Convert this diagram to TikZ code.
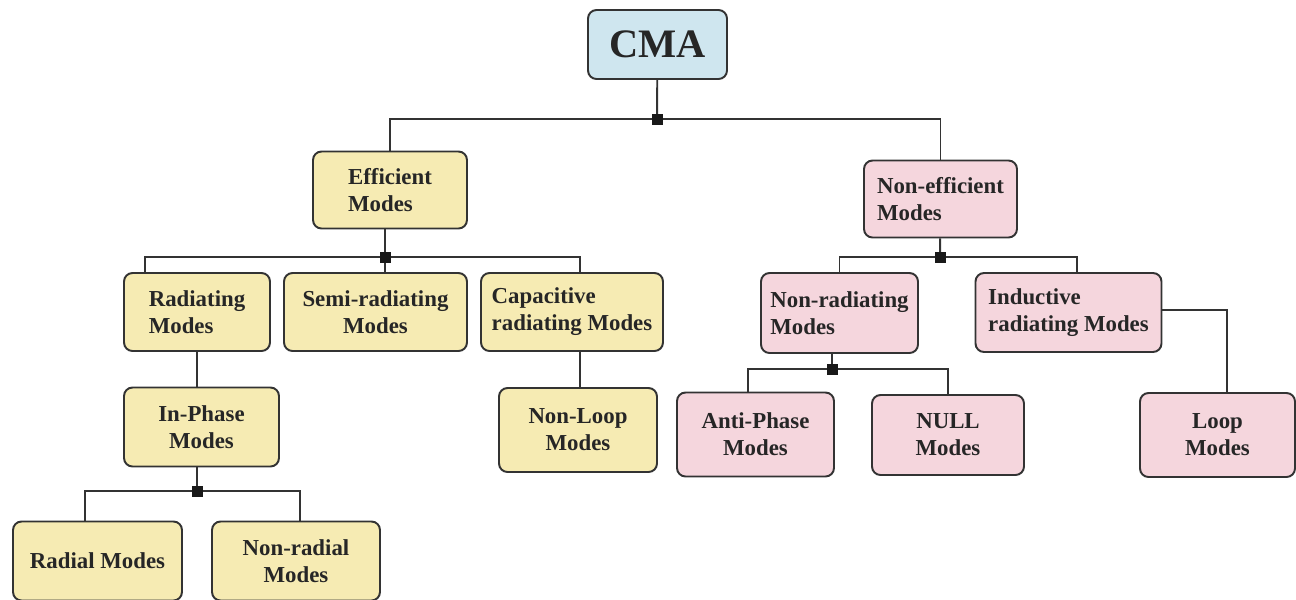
\documentclass[tikz,border=0pt]{standalone}
\usepackage{fontspec}
\setmainfont{Liberation Serif}
\usetikzlibrary{positioning}
\definecolor{effyellow}{HTML}{F6EBB3}
\definecolor{neffpink}{HTML}{F5D6DD}
\definecolor{cmablue}{HTML}{CFE6EF}
\definecolor{edgegray}{HTML}{333333}

\begin{document}
\begin{tikzpicture}[x=0.02cm, y=-0.02cm,
  box/.style={draw=edgegray, line width=1.1pt, rounded corners=0.17cm, align=left,
    font=\bfseries\fontsize{13}{15.4}\selectfont, text=black!85},
  eff/.style={box, fill=effyellow},
  neff/.style={box, fill=neffpink},
  junc/.style={fill=black!90, minimum size=0.22cm, inner sep=0pt},
  link/.style={draw=edgegray, line width=1.1pt}]
  \useasboundingbox (0,0) rectangle (1296,599);

  \node[box, fill=cmablue, minimum width=2.78cm, minimum height=1.38cm, font=\bfseries\fontsize{23}{26}\selectfont] (cma) at (657.5,44.5) {CMA};

  \node[eff, minimum width=3.08cm, minimum height=1.54cm] (eff) at (390,190) {Efficient\\Modes};
  \node[neff, minimum width=3.06cm, minimum height=1.54cm] (neff) at (940.5,199) {Non-efficient\\Modes};

  \node[eff, minimum width=2.92cm, minimum height=1.56cm] (rad) at (197,312) {Radiating\\Modes};
  \node[eff, align=center, minimum width=3.66cm, minimum height=1.56cm] (semi) at (375.5,312) {Semi-radiating\\Modes};
  \node[eff, minimum width=3.64cm, minimum height=1.56cm] (cap) at (572,312) {Capacitive\\radiating Modes};
  \node[eff, align=center, minimum width=3.1cm, minimum height=1.58cm] (inph) at (201.5,427) {In-Phase\\Modes};
  \node[eff, minimum width=3.38cm, minimum height=1.58cm] (radl) at (97.5,561) {Radial Modes};
  \node[eff, align=center, minimum width=3.36cm, minimum height=1.58cm] (nradl) at (296,561) {Non-radial\\Modes};
  \node[eff, align=center, minimum width=3.16cm, minimum height=1.68cm] (nloop) at (578,430) {Non-Loop\\Modes};

  \node[neff, minimum width=3.14cm, minimum height=1.6cm] (nrad) at (839.5,313) {Non-radiating\\Modes};
  \node[neff, minimum width=3.72cm, minimum height=1.58cm] (ind) at (1068.5,312.5) {Inductive\\radiating Modes};
  \node[neff, align=center, minimum width=3.14cm, minimum height=1.68cm] (anti) at (755.5,434.5) {Anti-Phase\\Modes};
  \node[neff, align=center, minimum width=3.04cm, minimum height=1.6cm] (null) at (948,435) {NULL\\Modes};
  \node[neff, align=center, minimum width=3.1cm, minimum height=1.68cm] (loop) at (1217.5,435) {Loop\\Modes};

  % branch points
  \coordinate (j0) at (657,119);
  \coordinate (j1) at (385,257);
  \coordinate (j2) at (197,491);
  \coordinate (j3) at (940,257);
  \coordinate (j4) at (832,369);

  \path[link] (cma) -- (j0);
  \path[link] (j0) -| (eff);
  \path[link] (j0) -| (neff);

  \path[link] (eff.south -| j1) -- (j1);
  \path[link] (j1) -| ([xshift=-1.04cm]rad.north);
  \path[link] (j1) -- (j1 |- semi.north);
  \path[link] (j1) -| ([xshift=0.16cm]cap.north);
  \path[link] (rad.south) -- (rad.south |- inph.north);
  \path[link] ([xshift=0.16cm]cap.south) -- ([xshift=0.16cm]cap.south |- nloop.north);

  \path[link] (inph.south -| j2) -- (j2);
  \path[link] (j2) -| ([xshift=-0.25cm]radl.north);
  \path[link] (j2) -| ([xshift=0.08cm]nradl.north);

  \path[link] (neff) -- (j3);
  \path[link] (j3) -| (nrad);
  \path[link] (j3) -| ([xshift=0.17cm]ind.north);
  \path[link] (nrad.south -| j4) -- (j4);
  \path[link] (j4) -| ([xshift=-0.15cm]anti.north);
  \path[link] (j4) -| (null);
  \path[link] ([yshift=0.05cm]ind.east) -| ([xshift=0.19cm]loop.north);

  \foreach \j in {j0,j1,j2,j3,j4}
    \node[junc] at (\j) {};
\end{tikzpicture}
\end{document}
